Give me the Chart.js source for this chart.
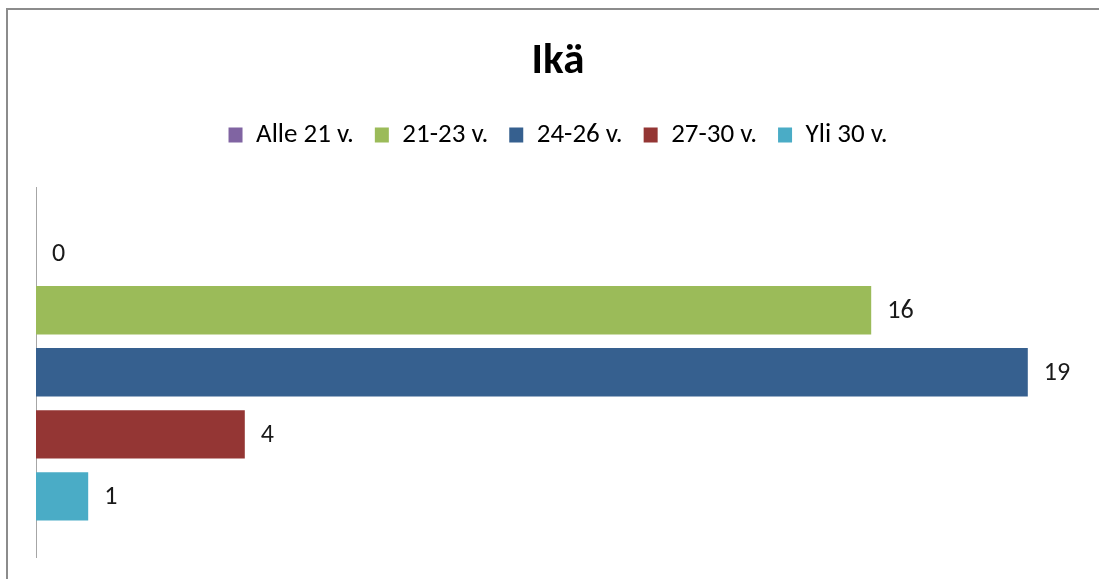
<!DOCTYPE html>
<html>
<head>
<meta charset="utf-8">
<script src="https://cdn.jsdelivr.net/npm/chart.js@4"></script>
<style>
  html, body { margin: 0; padding: 0; background: #fff; }
  #wrap { position: relative; width: 1099px; height: 579px; }
</style>
</head>
<body>
<div id="wrap"><canvas id="chart" width="1099" height="579"></canvas></div>
<script>
// dados
const categorias = ['Alle 21 v.', '21-23 v.', '24-26 v.', '27-30 v.', 'Yli 30 v.']
const valores = [0, 16, 19, 4, 1]
const cores = ['#8064A2', '#9BBB59', '#36608F', '#943634', '#4AACC6']

const fonte = 'Calibri, Carlito, "Liberation Sans", Arial, sans-serif'

// moldura cinzenta (como no Excel)
const moldura = {
    id: 'moldura',
    beforeDraw(chart) {
        const ctx = chart.ctx
        ctx.save()
        ctx.strokeStyle = '#8c8c8c'
        ctx.lineWidth = 2
        ctx.strokeRect(7, 9, 1200, 700)
        ctx.restore()
    }
}

// valores ao lado das barras
const rotulos = {
    id: 'rotulos',
    afterDatasetsDraw(chart) {
        const ctx = chart.ctx
        ctx.save()
        ctx.font = '26px ' + fonte
        ctx.fillStyle = '#1a1a1a'
        ctx.textBaseline = 'middle'
        chart.data.datasets.forEach((ds, i) => {
            chart.getDatasetMeta(i).data.forEach((bar, j) => {
                // o zero fica um pouco mais abaixo, como no original
                const dy = ds.data[j] === 0 ? 6 : 1
                ctx.fillText(String(ds.data[j]), bar.x + 16, bar.y + dy)
            })
        })
        ctx.restore()
    }
}

const datasets = categorias.map((nome, i) => ({
    label: nome,
    data: [valores[i]],
    backgroundColor: cores[i],
    borderWidth: 0,
    categoryPercentage: 0.84,
    barPercentage: 0.78
}))

new Chart(document.getElementById('chart'), {
    type: 'bar',
    data: { labels: [''], datasets: datasets },
    plugins: [moldura, rotulos],
    options: {
        indexAxis: 'y',
        responsive: false,
        animation: false,
        layout: { padding: { left: 36, right: 19, top: 30, bottom: 22 } },
        plugins: {
            title: {
                display: true,
                text: 'Ikä',
                color: '#000',
                font: { family: fonte, size: 43, weight: 'bold' },
                padding: { top: 6, bottom: 13 }
            },
            legend: {
                display: true,
                position: 'top',
                labels: {
                    boxWidth: 14,
                    boxHeight: 15,
                    color: '#000',
                    font: { family: fonte, size: 27 },
                    padding: 21
                }
            },
            tooltip: { enabled: false }
        },
        scales: {
            x: {
                display: true,
                position: 'top',
                min: 0,
                max: 20,
                ticks: { display: false },
                grid: { display: false, drawTicks: false },
                border: { display: false },
                // espaço entre legenda e gráfico
                afterFit(scale) { scale.height = 29 }
            },
            y: {
                display: true,
                ticks: { display: false },
                grid: { display: false, drawTicks: false, tickLength: 0 },
                border: { display: true, color: '#a6a6a6', width: 1 }
            }
        }
    }
})
</script>
</body>
</html>
